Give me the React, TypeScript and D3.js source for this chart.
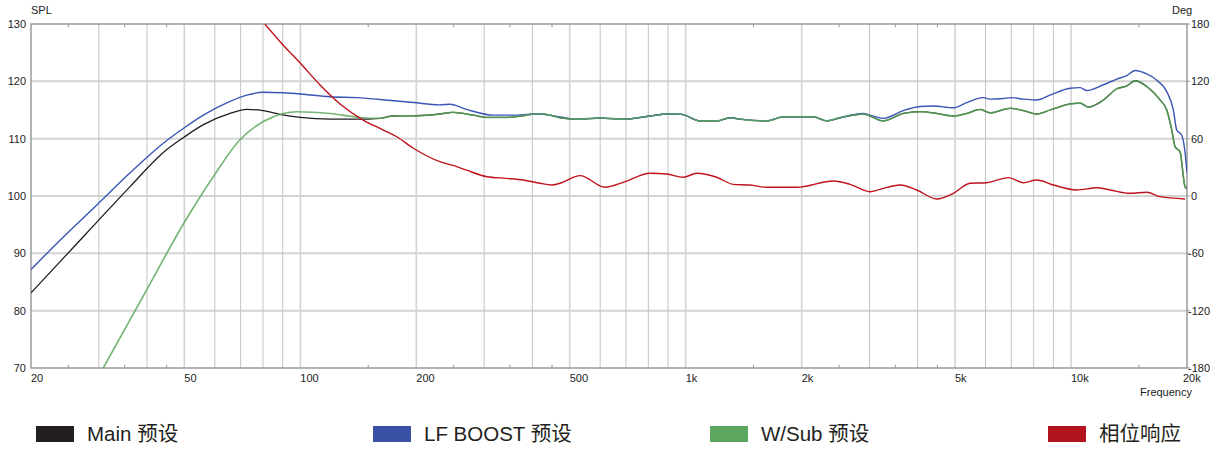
import * as d3 from "d3";

// [frequency Hz, SPL dB]
const mainLow: [number, number][] = [
  [20, 83.1], [24.3, 89.2], [29.6, 95.4], [36.1, 101.6], [44.1, 107.6], [50, 110.3],
  [55.9, 112.4], [65.7, 114.4], [72.6, 115.1], [80, 114.9], [88.5, 114.25], [100, 113.7],
  [119.4, 113.4], [140, 113.4],
];
const subLow: [number, number][] = [
  [30.8, 70], [39.9, 83.6], [49.8, 95.2], [59.5, 103.4], [69.7, 109.8], [80.2, 113.0],
  [90.3, 114.4], [97.9, 114.7], [119.4, 114.4], [142.9, 113.7],
];
const boostLow: [number, number][] = [
  [20, 87.2], [24.3, 92.9], [29.6, 98.4], [36.1, 104.0], [44.1, 109.2], [50, 111.9],
  [56, 114.1], [65.7, 116.5], [72.6, 117.6], [80.2, 118.1], [90.3, 118.0], [100, 117.8],
  [119.4, 117.3], [140, 117.15], [169, 116.7], [196.5, 116.3], [230, 115.9], [244.6, 116.0],
  [270, 115.1], [317, 114.1], [364.6, 114.1], [411, 114.35], [472, 113.8],
];
// shared by Main and W/Sub from ~160 Hz
const sharedMid: [number, number][] = [
  [161, 113.55], [174, 113.95], [200, 114.0], [230, 114.3], [249, 114.6], [281, 114.1],
  [305, 113.7], [343, 113.7], [378, 114.0], [411, 114.35], [445, 114.1], [472, 113.65],
];
// shared by all three presets
const commonMid: [number, number][] = [
  [521, 113.4], [600, 113.6], [689, 113.4], [809, 113.95], [893, 114.3], [973, 114.25],
  [1090, 113.1], [1204, 113.1], [1304, 113.65], [1384, 113.4], [1623, 113.1], [1793, 113.8],
  [2145, 113.8], [2324, 113.1], [2517, 113.65],
];
const sharedHigh: [number, number][] = [
  [2892, 114.3], [3258, 113.1], [3671, 114.4], [4057, 114.7], [4484, 114.4], [4951, 113.95],
  [5365, 114.4], [5808, 115.1], [6165, 114.5], [6948, 115.3], [7523, 114.9], [8152, 114.3],
  [8824, 115.0], [9948, 116.05], [10559, 116.2], [11094, 115.5], [12138, 116.75], [13150, 118.7],
  [13957, 119.2], [14668, 120.1], [15730, 119.1], [17030, 116.75], [17720, 115.0], [18260, 111.5],
  [18622, 108.6], [19185, 107.7], [19770, 101.6], [20000, 101.3],
];
const boostHigh: [number, number][] = [
  [2892, 114.4], [3009, 114.1], [3258, 113.55], [3671, 114.9], [4057, 115.6], [4393, 115.7],
  [4951, 115.4], [5365, 116.3], [5924, 117.15], [6165, 116.9], [6675, 117.0], [7018, 117.15],
  [7523, 116.9], [8152, 116.75], [8824, 117.6], [9948, 118.8], [10559, 118.9], [10990, 118.4],
  [12138, 119.4], [13150, 120.4], [13957, 121.0], [14668, 121.9], [15730, 121.3], [16700, 120.2],
  [17720, 118.2], [18436, 115.0], [18810, 111.5], [19380, 110.6], [19850, 106.5], [20000, 104.0],
];
// [frequency Hz, phase deg]
const phase: [number, number][] = [
  [80.9, 180], [90.2, 158], [99.9, 139.2], [112.5, 116.2], [126.8, 96.3], [145.6, 79.5],
  [164.3, 69], [177.9, 62], [196.5, 50], [230, 36], [249, 32], [270, 27], [305, 20.2], [343, 18.5],
  [379, 16.7], [419, 13.3], [449, 11.5], [472, 13.3], [532, 21.3], [618, 9.1], [689, 14.3],
  [809, 23.8], [893, 23], [986, 19.6], [1069, 23.8], [1204, 19.6], [1329, 12.2], [1469, 11.5],
  [1623, 9.1], [1943, 9.1], [2418, 15.7], [2671, 12.2], [3009, 4.5], [3194, 7], [3602, 11.5],
  [3978, 6.3], [4484, -3.1], [4951, 2.8], [5471, 13.3], [6046, 13.9], [6879, 19.2], [7523, 13.9],
  [8152, 16.7], [9002, 11.5], [10352, 6.3], [11667, 8.7], [12633, 6.3], [14238, 2.8], [15728, 3.9],
  [17034, -0.7], [19771, -3.1],
];

const splTicks = [70, 80, 90, 100, 110, 120, 130];
const degTicks = [-180, -120, -60, 0, 60, 120, 180];
const freqLabels: [number, string][] = [
  [20, "20"], [50, "50"], [100, "100"], [200, "200"], [500, "500"],
  [1000, "1k"], [2000, "2k"], [5000, "5k"], [10000, "10k"], [20000, "20k"],
];
const minorTicks = [25, 35, 45, 150, 250, 350, 450, 1500, 2500, 3500, 4500, 15000];

const seriesNames = ["Main 预设", "LF BOOST 预设", "W/Sub 预设", "相位响应"];
const legendColors = ["#231f20", "#3a52a6", "#5ca65f", "#b3131f"];
const legendX = [36, 373, 710, 1048];

const W = 1219;
const H = 452;
const L = 31, R = 1187, T = 24, B = 368;
const font = "'Liberation Sans', Arial, 'Noto Sans CJK SC', sans-serif";

export default function App() {
  const x = d3.scaleLog().domain([20, 20000]).range([L, R]);
  const y = d3.scaleLinear().domain([70, 130]).range([B, T]);
  const yDeg = d3.scaleLinear().domain([-180, 180]).range([B, T]);

  const spl = d3.line<[number, number]>().x((d) => x(d[0])).y((d) => y(d[1])).curve(d3.curveMonotoneX);
  const deg = d3.line<[number, number]>().x((d) => x(d[0])).y((d) => yDeg(d[1])).curve(d3.curveMonotoneX);

  const mainData = [...mainLow, ...sharedMid, ...commonMid, ...sharedHigh];
  const subData = [...subLow, ...sharedMid, ...commonMid, ...sharedHigh];
  const boostData = [...boostLow, ...commonMid, ...boostHigh];

  const grid: number[] = [];
  [10, 100, 1000, 10000].forEach((dec) => {
    for (let m = 1; m <= 9; m++) {
      const f = dec * m;
      if (f > 20 && f < 20000) grid.push(f);
    }
  });
  const labelled = new Set(freqLabels.map((d) => d[0]));

  return (
    <svg width={W} height={H} style={{ position: "absolute", left: 0, top: 0, background: "#fff" }} fontFamily={font}>
      <defs>
        <clipPath id="plot">
          <rect x={L} y={T} width={R - L} height={B - T} />
        </clipPath>
      </defs>
      {splTicks.slice(1, -1).map((v) => (
        <line key={"h" + v} x1={L} x2={R} y1={y(v)} y2={y(v)} stroke="#d3d3d3" strokeWidth={2} />
      ))}
      {grid.map((f) => (
        <line key={"v" + f} x1={x(f)} x2={x(f)} y1={T} y2={B}
          stroke={labelled.has(f) ? "#d2d2d2" : "#c4c4c4"} strokeWidth={labelled.has(f) ? 1.6 : 1} />
      ))}
      {minorTicks.map((f) => (
        <g key={"t" + f} stroke="#8e8e8e" strokeWidth={1}>
          <line x1={x(f)} x2={x(f)} y1={B} y2={B - 3} />
          <line x1={x(f)} x2={x(f)} y1={T} y2={T + 3} />
        </g>
      ))}
      <rect x={L} y={T} width={R - L} height={B - T} fill="none" stroke="#9a9a9a" strokeWidth={1.5} />
      {degTicks.map((v) => (
        <line key={"rt" + v} x1={R} x2={R + 3} y1={yDeg(v)} y2={yDeg(v)} stroke="#9a9a9a" />
      ))}

      <g clipPath="url(#plot)" fill="none">
        <path d={spl(mainData) || ""} stroke="#1e1e1e" strokeWidth={1.3} />
        <path d={spl(boostData) || ""} stroke="#3a55b4" strokeWidth={1.4} />
        <path d={spl(subData) || ""} stroke="#5aa85a" strokeWidth={1.6} strokeOpacity={0.85} />
        <path d={deg(phase) || ""} stroke="#c0121c" strokeWidth={1.4} />
      </g>

      <g fontSize={11} fill="#222">
        {splTicks.map((v) => (
          <text key={"yl" + v} x={26} y={y(v) + 4} textAnchor="end">{v}</text>
        ))}
        {degTicks.map((v) => (
          <text key={"dl" + v} x={v < 0 ? 1188 : 1191} y={yDeg(v) + 4}>{v}</text>
        ))}
        {freqLabels.map(([f, s]) => (
          <text key={"fl" + f} x={f === 20000 ? 1183 : x(f)} y={382}>{s}</text>
        ))}
        <text x={31} y={14}>SPL</text>
        <text x={1172} y={14}>Deg</text>
        <text x={1140} y={396}>Frequency</text>
      </g>

      {seriesNames.map((name, i) => (
        <g key={name}>
          <rect x={legendX[i]} y={426} width={38} height={16} fill={legendColors[i]} />
          <text x={legendX[i] + 51} y={441} fontSize={20.5} fill="#231f20">{name}</text>
        </g>
      ))}
    </svg>
  );
}
